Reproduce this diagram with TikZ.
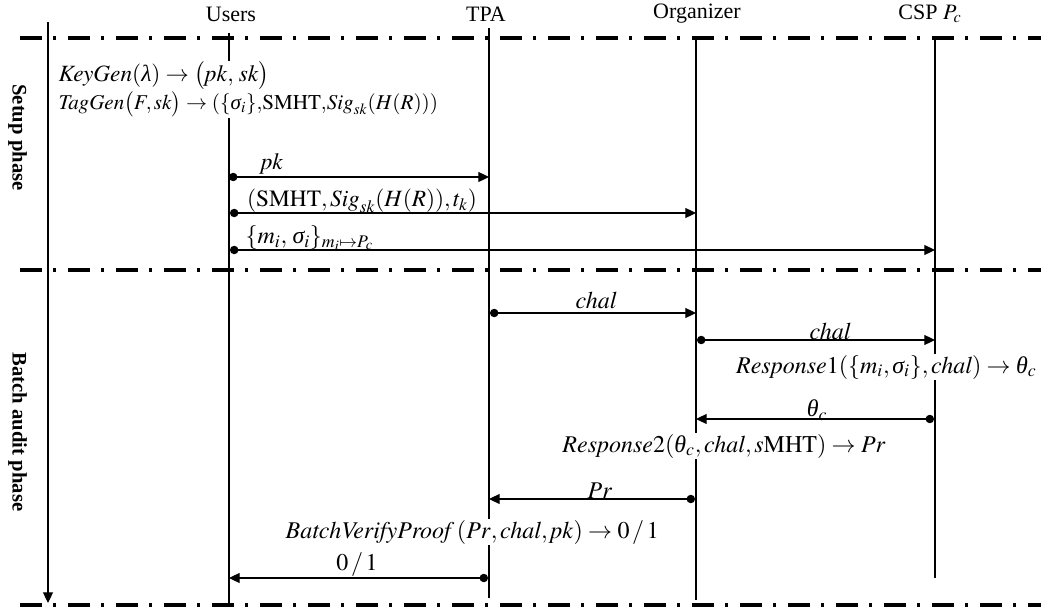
\documentclass[tikz,border=0pt]{standalone}
\usepackage{mathptmx}
\usepackage[no-math]{fontspec}
\setmainfont{Liberation Serif}
\usetikzlibrary{arrows.meta}
\newcommand{\gsig}{\mbox{\itshape σ}}
\newcommand{\gthe}{\mbox{\itshape θ}}
\newcommand{\glam}{\mbox{\itshape λ}}
\newcommand{\fs}[1]{\fontsize{#1}{20}\selectfont}
\begin{document}
\begin{tikzpicture}[x=0.75pt,y=-0.75pt,
  phaseline/.style={line width=2.3pt, dash pattern=on 16.5pt off 8.5pt on 2pt off 9pt},
  life/.style={line width=0.8pt},
  msg/.style={line width=0.8pt, {Circle[length=6.3pt]}-{Triangle[length=8pt,width=7.5pt]}},
  lbl/.style={inner sep=1pt, font=\fs{17.5}},
  wlbl/.style={lbl, fill=white},
  head/.style={inner sep=1pt, font=\fs{16.5}},
  phase/.style={rotate=-90, inner sep=1pt, font=\fs{15.5}\bfseries}]
\useasboundingbox (0,0) rectangle (1041,609);

% headers
\node[head] (U) at (231,14) {Users};
\node[head] (T) at (486,14) {TPA};
\node[head] (O) at (697,14) {Organizer};
\node[head] (C) at (930,14) {CSP $P_c$};

% lifeline ends
\coordinate (Ut) at (229,33);  \coordinate (Ub) at (229,605);
\coordinate (Tt) at (489,28);  \coordinate (Tb) at (489,598);
\coordinate (Ot) at (696,37);  \coordinate (Ob) at (696,600);
\coordinate (Ct) at (935,37);  \coordinate (Cb) at (935,578);
\draw[life] (Ut) -- (Ub);
\draw[life] (Tt) -- (Tb);
\draw[life] (Ot) -- (Ob);
\draw[life] (Ct) -- (Cb);

% time axis
\coordinate (At) at (48,22); \coordinate (Ab) at (48,603);
\draw[life,-{Triangle[length=8pt,width=7.5pt]}] (At) -- (Ab);

% phase separators
\coordinate (L1) at (20,38);  \coordinate (R1) at (1041,38);
\coordinate (L2) at (20,270); \coordinate (R2) at (1041,270);
\coordinate (L3) at (20,605); \coordinate (R3) at (1041,605);
\draw[phaseline] (L1) -- (R1);
\draw[phaseline] (L2) -- (R2);
\draw[phaseline] (L3) -- (R3);

% phase labels
\node[phase] (P1) at (17.5,137.5) {Setup phase};
\node[phase] (P2) at (17.5,432) {Batch audit phase};

% setup computations
\node[wlbl,anchor=west,font=\fs{17.5}] (kg) at (57,76) {$\mathit{KeyGen}(\glam)\rightarrow\big(\mathit{pk},\,\mathit{sk}\big)$};
\node[wlbl,anchor=west,font=\fs{15.8}] (tg) at (57,104) {$\mathit{TagGen}\big(F,\mathit{sk}\big)\rightarrow(\{\gsig_i\}{,}\mathrm{SMHT}{,}\mathit{Sig}_{\mathit{sk}}(H(R)))$};

% setup messages
\coordinate (U1) at (229,177); \coordinate (T1) at (489,177);
\draw[msg] (U1) -- (T1);
\node[lbl] (l1) at (272,164) {$\mathit{pk}$};

\coordinate (U2) at (230,213); \coordinate (O2) at (696,213);
\draw[msg] (U2) -- (O2);
\node[lbl] (l2) at (362,201) {$(\mathrm{SMHT},\mathit{Sig}_{\mathit{sk}}(H(R)),t_k)$};

\coordinate (U3) at (230,250); \coordinate (C3) at (935,250);
\draw[msg] (U3) -- (C3);
\node[lbl,anchor=west,font=\fs{18}] (l3) at (244,238) {$\{m_i,\,\gsig_i\}_{m_i\mapsto P_c}$};

% batch audit
\coordinate (T4) at (490,313); \coordinate (O4) at (696,313);
\draw[msg] (T4) -- (O4);
\node[lbl,font=\fs{18}] (l4) at (596,300) {$\mathit{chal}$};

\coordinate (O5) at (697,340); \coordinate (C5) at (935,340);
\draw[msg] (O5) -- (C5);
\node[lbl,font=\fs{18}] (l5) at (830,331) {$\mathit{chal}$};

\node[wlbl,anchor=east,font=\fs{18}] (r1) at (1038,367) {$\mathit{Response}1(\{m_i,\gsig_i\},\mathit{chal})\rightarrow\gthe_c$};

\coordinate (C6) at (934,419); \coordinate (O6) at (696,419);
\draw[msg] (C6) -- (O6);
\node[lbl,font=\fs{18}] (l6) at (817,410) {$\gthe_c$};

\node[wlbl,font=\fs{18}] (r2) at (724,446) {$\mathit{Response}2(\gthe_c,\mathit{chal},s\mathrm{MHT})\rightarrow \mathit{Pr}$};

\coordinate (O7) at (695,499); \coordinate (T7) at (489,499);
\draw[msg] (O7) -- (T7);
\node[lbl,font=\fs{18}] (l7) at (600,491) {$\mathit{Pr}$};

\node[wlbl,anchor=west,font=\fs{18}] (bv) at (284,532) {$\mathit{BatchVerifyProof}\,(\mathit{Pr},\mathit{chal},\mathit{pk})\rightarrow 0\,/\,1$};

\coordinate (T8) at (488,578); \coordinate (U8) at (229,578);
\draw[msg] (T8) -- (U8);
\node[lbl,font=\fs{18}] (l8) at (357,565) {$0\,/\,1$};
\end{tikzpicture}
\end{document}
